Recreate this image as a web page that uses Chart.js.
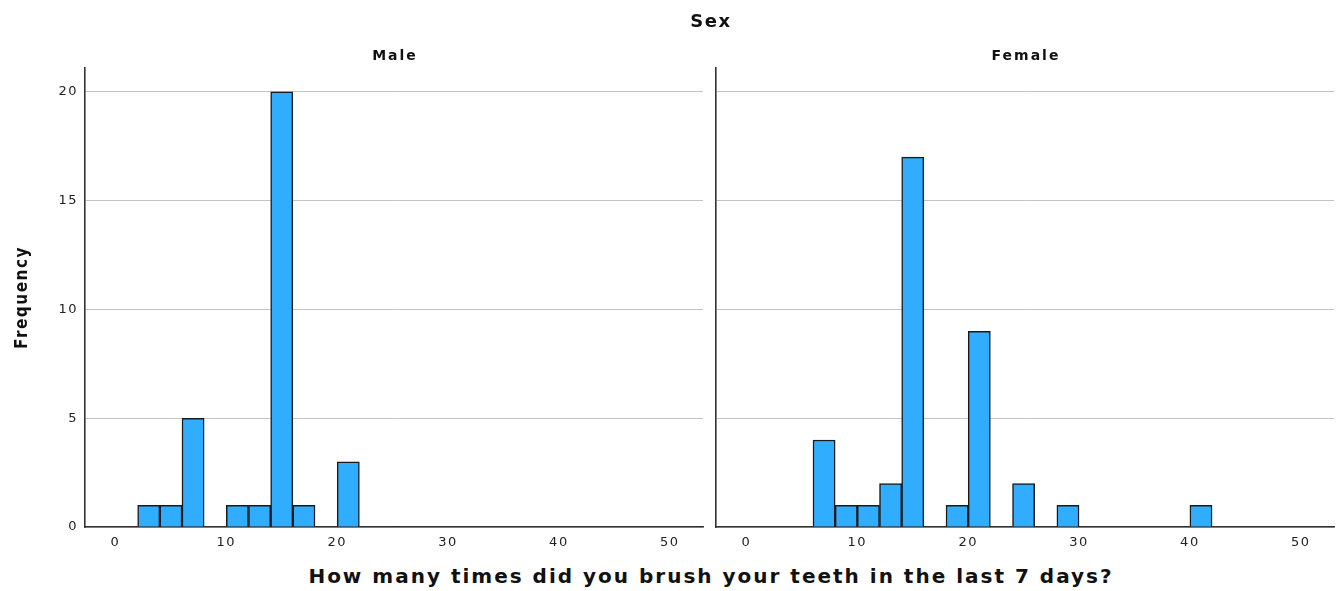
<!DOCTYPE html>
<html>
<head>
<meta charset="utf-8">
<script src="https://cdn.jsdelivr.net/npm/chart.js@4.4.1/dist/chart.umd.min.js"></script>
<style>
  body { margin: 0; background: #fff; }
  #wrap { position: relative; width: 1342px; height: 591px; overflow: hidden; font-family: 'DejaVu Sans', sans-serif; color: #111; }
  canvas { position: absolute; top: 0; }
  .lbl { position: absolute; white-space: nowrap; transform: translate(-50%, -50%); font-weight: bold; }
</style>
</head>
<body>
<div id="wrap">
  <canvas id="maleChart" width="706" height="560" style="left:0"></canvas>
  <canvas id="femaleChart" width="636" height="560" style="left:706px"></canvas>
  <div class="lbl" style="left:711px; top:20px; font-size:18px; letter-spacing:1.5px;">Sex</div>
  <div class="lbl" style="left:395px; top:55px; font-size:14px; letter-spacing:2px;">Male</div>
  <div class="lbl" style="left:1026px; top:55px; font-size:14px; letter-spacing:2px;">Female</div>
  <div class="lbl" style="left:711px; top:576px; font-size:20px; letter-spacing:2px;">How many times did you brush your teeth in the last 7 days?</div>
</div>
<script>
// histogram bins (lower edge) and counts, bin width 2
var binWidth = 2;
var maleBins = [2, 4, 6, 10, 12, 14, 16, 20];
var maleCounts = [1, 1, 5, 1, 1, 20, 1, 3];
var femaleBins = [6, 8, 10, 12, 14, 18, 20, 24, 28, 40];
var femaleCounts = [4, 1, 1, 2, 17, 1, 9, 2, 1, 1];
var xTicks = [0, 10, 20, 30, 40, 50];
var yTicks = [0, 5, 10, 15, 20];

Chart.defaults.font.family = "'DejaVu Sans', sans-serif";
Chart.defaults.color = '#222';

// wider letter spacing for the canvas text
var spacing = {
    id: 'spacing',
    beforeInit: function(chart) { chart.ctx.letterSpacing = '1.5px'; },
    beforeDraw: function(chart) { chart.ctx.letterSpacing = '1.5px'; }
};

function toPoints(bins, counts) {
    return bins.map(function(b, i) {
        return { x: b + binWidth / 2, y: counts[i] };
    });
}

function makePanel(id, bins, counts, showY, padRight) {
    var ctx = document.getElementById(id).getContext('2d');
    return new Chart(ctx, {
        type: 'bar',
        plugins: [spacing],
        data: {
            datasets: [{
                data: toPoints(bins, counts),
                backgroundColor: '#30adff',
                borderColor: '#1a1a1a',
                borderWidth: 1.5,
                barPercentage: 1,
                categoryPercentage: 1
            }]
        },
        options: {
            responsive: false,
            animation: false,
            layout: { padding: { top: 68, right: padRight, left: 0, bottom: 0 } },
            plugins: { legend: { display: false }, tooltip: { enabled: false } },
            scales: {
                x: {
                    type: 'linear',
                    offset: false,
                    min: -2.75,
                    max: 53,
                    afterBuildTicks: function(scale) {
                        scale.ticks = xTicks.map(function(v) { return { value: v }; });
                    },
                    afterFit: function(scale) { scale.height = 33; },
                    grid: { display: false, drawTicks: false },
                    border: { display: true, color: '#333', width: 1.6 },
                    ticks: { font: { size: 13 }, padding: 8, color: '#222', maxRotation: 0 }
                },
                y: {
                    min: 0,
                    max: 21.1,
                    afterBuildTicks: function(scale) {
                        scale.ticks = yTicks.map(function(v) { return { value: v }; });
                    },
                    afterFit: function(scale) { scale.width = showY ? 85 : 10; },
                    grid: { color: '#c4c4c4', lineWidth: 1, drawTicks: false },
                    border: { display: true, color: '#333', width: 1.6 },
                    ticks: { display: showY, font: { size: 13 }, padding: 7, color: '#222' },
                    title: {
                        display: showY,
                        text: 'Frequency',
                        font: { family: "'DejaVu Sans Condensed', 'DejaVu Sans', sans-serif", size: 17, weight: 'bold' },
                        color: '#111',
                        padding: { top: 12, bottom: 0 }
                    }
                }
            }
        }
    });
}

document.addEventListener('DOMContentLoaded', function() {
    makePanel('maleChart', maleBins, maleCounts, true, 3);
    makePanel('femaleChart', femaleBins, femaleCounts, false, 8);
});
</script>
</body>
</html>
